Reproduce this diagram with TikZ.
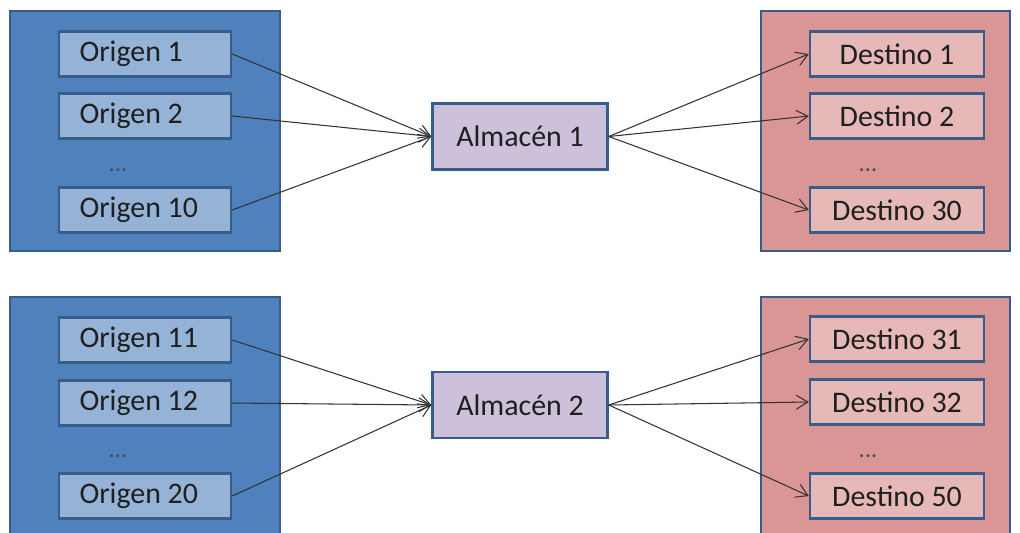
\documentclass[tikz,border=0pt]{standalone}
\usepackage{fontspec}
\setmainfont{Carlito}
\usepackage{tikz}
\usetikzlibrary{positioning}
\usetikzlibrary{arrows.meta}
\definecolor{bordeazul}{HTML}{385D8A}
\definecolor{azulgrupo}{HTML}{4F81BD}
\definecolor{azulcaja}{HTML}{95B3D7}
\definecolor{rojogrupo}{HTML}{D99694}
\definecolor{rojocaja}{HTML}{E6B9B8}
\definecolor{lila}{HTML}{CCC0DA}
\tikzstyle{line} = [draw, black!80, line width=0.6pt, -{Straight Barb[length=2.3mm,width=2.8mm]}]

\begin{document}
\begin{tikzpicture}[
  x=0.02cm, y=-0.02cm,
  every node/.style={font=\fontsize{17}{20}\selectfont, text=black!88},
  grupo/.style={draw=bordeazul, line width=1.2pt, inner sep=0pt, minimum height=4.8cm},
  origen/.style={draw=bordeazul, line width=1.4pt, fill=azulcaja, inner sep=0pt,
    minimum width=3.44cm, minimum height=0.9cm, text width=2.62cm, align=flush left},
  destino/.style={draw=bordeazul, line width=1.4pt, fill=rojocaja, inner sep=0pt,
    minimum width=3.48cm, minimum height=0.9cm},
  almacen/.style={draw=bordeazul, line width=1.4pt, fill=lila, inner sep=0pt,
    minimum width=3.5cm, minimum height=1.32cm},
  puntos/.style={text=black!70, font=\fontsize{14}{15}\selectfont}]
  \clip (0,0) rectangle (1020,532);
	%% Groups
	\node [grupo, fill=azulgrupo, minimum width=5.4cm] at (145,131) (GO1) {};
	\node [grupo, fill=rojogrupo, minimum width=4.98cm] at (885.5,131) (GD1) {};
	\node [grupo, fill=azulgrupo, minimum width=5.4cm, minimum height=4.96cm] at (145,421) (GO2) {};
	\node [grupo, fill=rojogrupo, minimum width=4.98cm, minimum height=4.96cm] at (885.5,421) (GD2) {};
	%% Boxes, first block
	\node [origen] at (145,54) (O1) {Origen 1};
	\node [origen] at (145,116) (O2) {Origen 2};
	\node [puntos] at (118,170) (PO1) {...};
	\node [origen] at (145,210) (O10) {Origen 10};
	\node [almacen] at (520,136.5) (A1) {Almacén 1};
	\node [destino] at (897,54) (D1) {Destino 1};
	\node [destino] at (897,116) (D2) {Destino 2};
	\node [puntos] at (868,170) (PD1) {...};
	\node [destino] at (897,210) (D30) {Destino 30};
	%% Boxes, second block
	\node [origen] at (145,340) (O11) {Origen 11};
	\node [origen] at (145,403) (O12) {Origen 12};
	\node [puntos] at (118,456) (PO2) {...};
	\node [origen] at (145,496) (O20) {Origen 20};
	\node [almacen] at (520,405) (A2) {Almacén 2};
	\node [destino] at (897,339) (D31) {Destino 31};
	\node [destino] at (897,402) (D32) {Destino 32};
	\node [puntos] at (868,456) (PD2) {...};
	\node [destino] at (897,496) (D50) {Destino 50};
	%% Flows
	\path [line] (O1.east) -- (A1.west);
	\path [line] (O2.east) -- (A1.west);
	\path [line] (O10.east) -- (A1.west);
	\path [line] (A1.east) -- (D1.west);
	\path [line] (A1.east) -- (D2.west);
	\path [line] (A1.east) -- (D30.west);
	\path [line] (O11.east) -- (A2.west);
	\path [line] (O12.east) -- (A2.west);
	\path [line] (O20.east) -- (A2.west);
	\path [line] (A2.east) -- (D31.west);
	\path [line] (A2.east) -- (D32.west);
	\path [line] (A2.east) -- (D50.west);
\end{tikzpicture}
\end{document}
